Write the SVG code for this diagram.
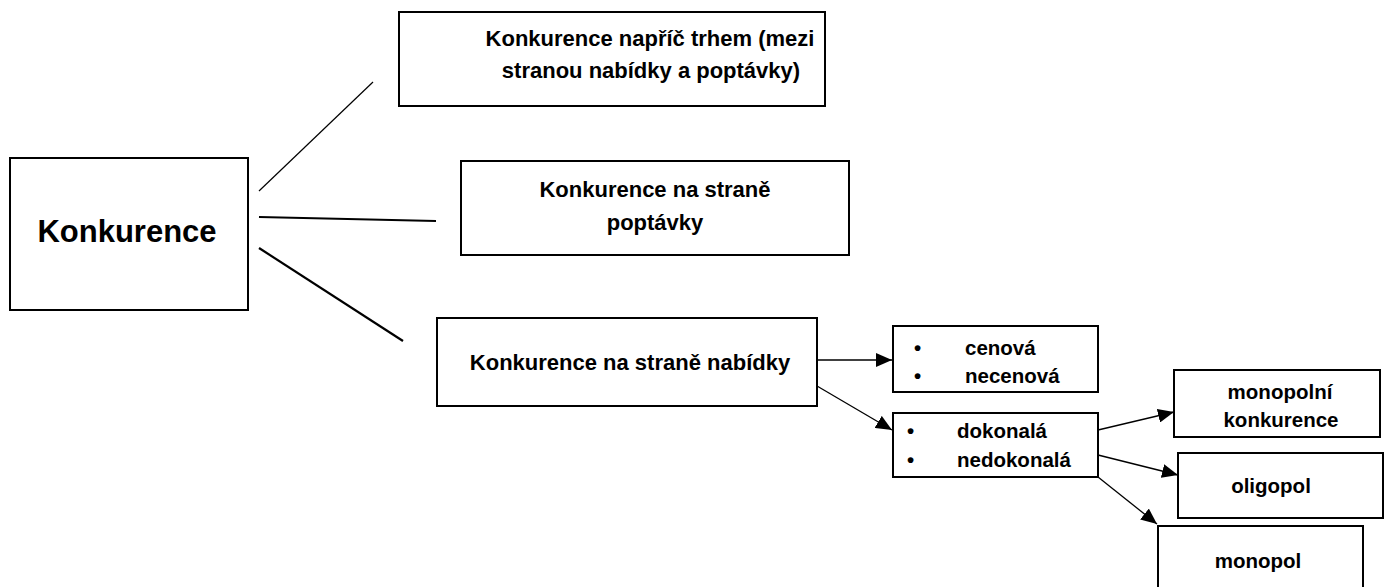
<svg xmlns="http://www.w3.org/2000/svg" width="1387" height="587" viewBox="0 0 1387 587">
<defs>
<style>
.box{fill:#fff;stroke:#000;stroke-width:2}
.t{font-family:"Liberation Sans",Arial,sans-serif;font-weight:bold;fill:#000}
.big{font-size:31px}
.mid{font-size:22px}
.sm{font-size:20.5px}
.ln{stroke:#000;fill:none}
.ar{stroke:#000;stroke-width:1.3;fill:none;marker-end:url(#ah)}
</style>
<marker id="ah" markerUnits="userSpaceOnUse" markerWidth="17" markerHeight="14" refX="16" refY="7" orient="auto">
<path d="M0,0 L16,7 L0,14 Z" fill="#000"/>
</marker>
</defs>
<rect width="1387" height="587" fill="#fff"/>
<g id="connectors">
<line class="ln" x1="259" y1="191" x2="373" y2="82" stroke-width="1.2"/>
<line class="ln" x1="259" y1="217" x2="436" y2="221" stroke-width="2.2"/>
<line class="ln" x1="259" y1="248" x2="403" y2="341" stroke-width="2.2"/>
<line class="ar" x1="817" y1="360" x2="892" y2="360"/>
<line class="ar" x1="817" y1="386" x2="892" y2="430"/>
<line class="ar" x1="1098" y1="430" x2="1174" y2="412"/>
<line class="ar" x1="1098" y1="455" x2="1178" y2="475"/>
<line class="ar" x1="1098" y1="477" x2="1157" y2="524"/>
</g>
<g id="konkurence">
<rect class="box" x="10" y="158" width="238" height="152"/>
<text class="t big" x="127" y="242" text-anchor="middle">Konkurence</text>
</g>
<g id="napric-trhem">
<rect class="box" x="399" y="12" width="426" height="94"/>
<text class="t mid" x="650" y="46" text-anchor="middle">Konkurence napříč trhem (mezi</text>
<text class="t mid" x="651" y="78" text-anchor="middle">stranou nabídky a poptávky)</text>
</g>
<g id="strana-poptavky">
<rect class="box" x="461" y="161" width="388" height="94"/>
<text class="t mid" x="655" y="197" text-anchor="middle">Konkurence na straně</text>
<text class="t mid" x="655" y="230" text-anchor="middle">poptávky</text>
</g>
<g id="strana-nabidky">
<rect class="box" x="437" y="318" width="380" height="88"/>
<text class="t mid" x="630" y="370" text-anchor="middle">Konkurence na straně nabídky</text>
</g>
<g id="cenova">
<rect class="box" x="893" y="326" width="205" height="66"/>
<text class="t sm" x="914" y="355">•</text>
<text class="t sm" x="965" y="355">cenová</text>
<text class="t sm" x="914" y="383">•</text>
<text class="t sm" x="965" y="383">necenová</text>
</g>
<g id="dokonala">
<rect class="box" x="893" y="413" width="205" height="64"/>
<text class="t sm" x="907" y="438">•</text>
<text class="t sm" x="957" y="438">dokonalá</text>
<text class="t sm" x="907" y="467">•</text>
<text class="t sm" x="957" y="467">nedokonalá</text>
</g>
<g id="monopolni-konkurence">
<rect class="box" x="1174" y="370" width="206" height="67"/>
<text class="t sm" x="1280" y="399" text-anchor="middle">monopolní</text>
<text class="t sm" x="1281" y="427" text-anchor="middle">konkurence</text>
</g>
<g id="oligopol">
<rect class="box" x="1178" y="453" width="205" height="65"/>
<text class="t sm" x="1271" y="493" text-anchor="middle">oligopol</text>
</g>
<g id="monopol">
<rect class="box" x="1158" y="526" width="205" height="64"/>
<text class="t sm" x="1258" y="568" text-anchor="middle">monopol</text>
</g>
</svg>
